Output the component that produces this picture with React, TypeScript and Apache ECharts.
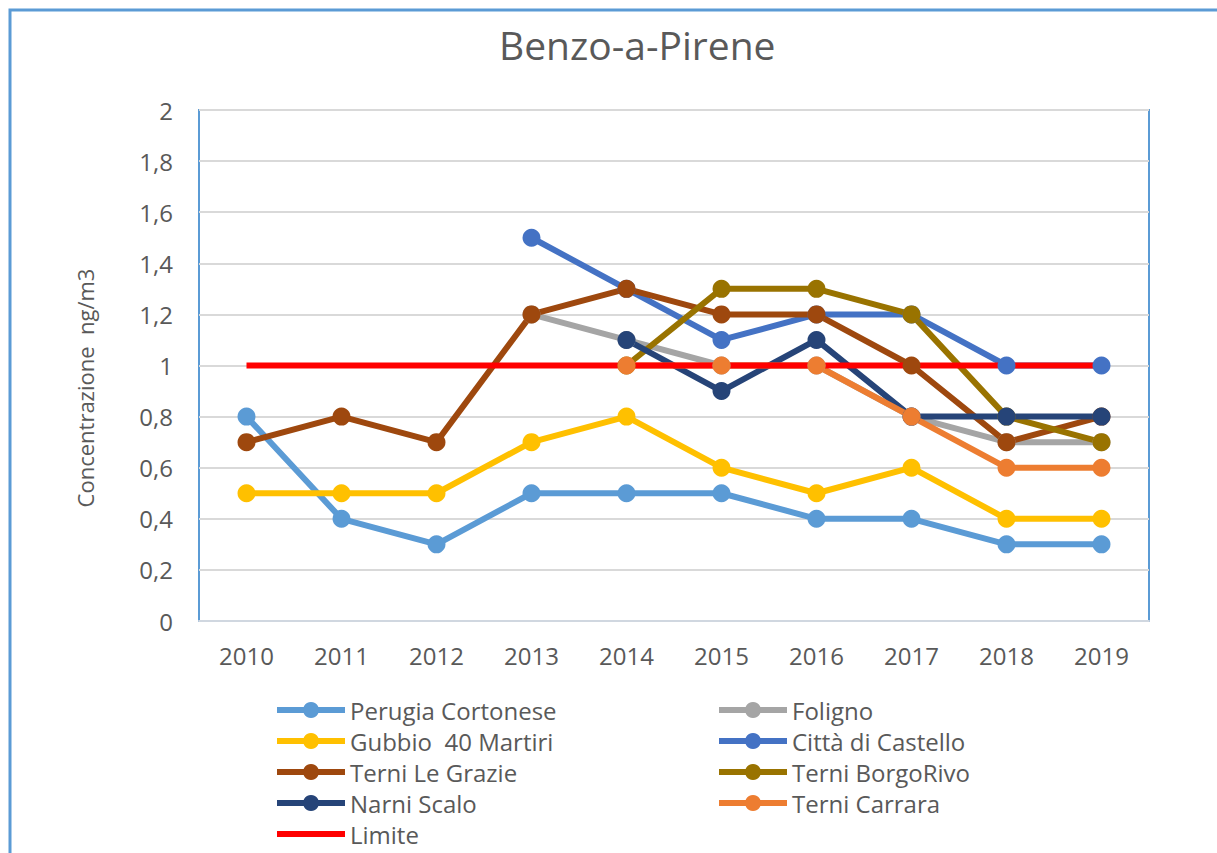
import React, { useEffect, useRef } from "react";
import * as echarts from "echarts";

const years = ["2010", "2011", "2012", "2013", "2014", "2015", "2016", "2017", "2018", "2019"];
const perugiaCortonese = [0.8, 0.4, 0.3, 0.5, 0.5, 0.5, 0.4, 0.4, 0.3, 0.3];
const foligno = [null, null, null, 1.2, 1.1, 1.0, 1.0, 0.8, 0.7, 0.7];
const gubbio = [0.5, 0.5, 0.5, 0.7, 0.8, 0.6, 0.5, 0.6, 0.4, 0.4];
const cittaDiCastello = [null, null, null, 1.5, 1.3, 1.1, 1.2, 1.2, 1.0, 1.0];
const terniLeGrazie = [0.7, 0.8, 0.7, 1.2, 1.3, 1.2, 1.2, 1.0, 0.7, 0.8];
const terniBorgoRivo = [null, null, null, null, 1.0, 1.3, 1.3, 1.2, 0.8, 0.7];
const narniScalo = [null, null, null, null, 1.1, 0.9, 1.1, 0.8, 0.8, 0.8];
const terniCarrara = [null, null, null, null, 1.0, 1.0, 1.0, 0.8, 0.6, 0.6];
const limite = [1, 1, 1, 1, 1, 1, 1, 1, 1, 1];

const seriesDefs = [
  { name: "Perugia Cortonese", data: perugiaCortonese, color: "#5B9BD5" },
  { name: "Foligno", data: foligno, color: "#A5A5A5" },
  { name: "Gubbio  40 Martiri", data: gubbio, color: "#FFC000" },
  { name: "Città di Castello", data: cittaDiCastello, color: "#4472C4" },
  { name: "Terni Le Grazie", data: terniLeGrazie, color: "#9E480E" },
  { name: "Terni BorgoRivo", data: terniBorgoRivo, color: "#997300" },
  { name: "Narni Scalo", data: narniScalo, color: "#264478" },
  { name: "Terni Carrara", data: terniCarrara, color: "#ED7D31" },
  { name: "Limite", data: limite, color: "#FF0000", noMarker: true },
];

const FONT = "Open Sans";
const TXT = "#595959";

export default function App() {
  const ref = useRef<HTMLDivElement>(null);
  useEffect(() => {
    if (!ref.current) return;
    const chart = echarts.init(ref.current, undefined, { renderer: "svg" });
    const legendText = { fontFamily: FONT, fontSize: 24, color: TXT, lineHeight: 24 };
    const legendCommon = {
      orient: "vertical" as const,
      itemWidth: 68,
      itemHeight: 20,
      itemGap: 7,
      textStyle: legendText,
      lineStyle: { width: 6 },
      top: 693,
      height: 300,
    };
    chart.setOption({
      animation: false,
      backgroundColor: "#fff",
      title: {
        text: "Benzo-a-Pirene",
        left: 494,
        top: 20,
        textStyle: { fontFamily: FONT, fontSize: 39, fontWeight: "normal", color: TXT },
      },
      graphic: [
        {
          type: "rect",
          shape: { x: 10, y: 10, width: 1300, height: 1000 },
          style: { fill: "none", stroke: "#5B9BD5", lineWidth: 3 },
          silent: true,
        },
        {
          type: "text",
          x: 85,
          y: 388,
          rotation: Math.PI / 2,
          style: {
            text: "Concentrazione  ng/m3",
            fontFamily: FONT,
            fontSize: 22,
            fill: TXT,
            align: "center",
            verticalAlign: "middle",
          },
          silent: true,
        },
      ],
      legend: [
        {
          ...legendCommon,
          left: 269,
          data: [
            "Perugia Cortonese",
            "Gubbio  40 Martiri",
            "Terni Le Grazie",
            "Narni Scalo",
            { name: "Limite", itemStyle: { opacity: 0 } },
          ],
        },
        {
          ...legendCommon,
          left: 711,
          data: ["Foligno", "Città di Castello", "Terni BorgoRivo", "Terni Carrara"],
        },
      ],
      grid: {
        left: 199,
        top: 110,
        right: 68,
        bottom: 232,
        show: true,
        borderColor: "#5B9BD5",
        borderWidth: 2,
        containLabel: false,
      },
      xAxis: {
        type: "category",
        data: years,
        boundaryGap: true,
        axisLine: { show: true, lineStyle: { color: "#D0D7E0", width: 2 } },
        axisTick: { show: false },
        axisLabel: { fontFamily: FONT, fontSize: 24, color: TXT, margin: 22 },
      },
      yAxis: {
        type: "value",
        min: 0,
        max: 2,
        interval: 0.2,
        axisLine: { show: false },
        axisTick: { show: false },
        splitLine: { lineStyle: { color: "#D9D9D9", width: 2 } },
        axisLabel: {
          fontFamily: FONT,
          fontSize: 24,
          color: TXT,
          margin: 26,
          formatter: (v: number) => String(Math.round(v * 10) / 10).replace(".", ","),
        },
      },
      series: seriesDefs.map((s) => ({
        name: s.name,
        type: "line",
        data: s.data,
        color: s.color,
        symbol: s.noMarker ? "none" : "circle",
        symbolSize: 18,
        showSymbol: !s.noMarker,
        lineStyle: { width: 6, color: s.color },
        itemStyle: { color: s.color },
        connectNulls: false,
        z: 2,
      })),
    });
    return () => chart.dispose();
  }, []);
  return (
    <div
      ref={ref}
      style={{ position: "fixed", left: 0, top: 0, width: 1217, height: 853 }}
    />
  );
}
